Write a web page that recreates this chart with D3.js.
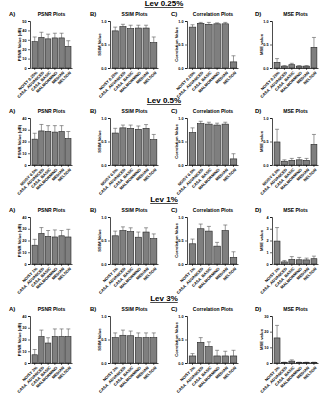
<!DOCTYPE html>
<html>
<head>
<meta charset="utf-8">
<script src="https://cdn.jsdelivr.net/npm/d3@7"></script>
<style>
  body { margin: 0; background: #fff; }
  svg { display: block; font-family: "Liberation Sans", Arial, sans-serif; }
</style>
</head>
<body>
<svg width="328" height="400"></svg>
<script>
// Data
var levels = ["Lev 0.25%", "Lev 0.5%", "Lev 1%", "Lev 3%"];
var noisyNames = ["NOISY 0.25%", "NOISY 0.5%", "NOISY 1%", "NOISY 3%"];
var methods = ["CASA_ADVANCED", "CASA_BASIC", "MALMORMINO", "MEDIAN", "NELSON"];

var psnr = [[28, 32.5, 31, 32, 32, 23], [22, 29, 28.5, 28, 28.5, 22.5], [16, 26, 23.5, 23, 24, 23], [7, 22.5, 17, 22.5, 22.5, 22.5]];
var psnrErr = [[5, 5.5, 5, 5, 5, 6], [5, 5.5, 5, 5.5, 5, 6], [5, 5, 5, 6, 4.5, 6.5], [4.5, 5.5, 4.5, 6.5, 6.5, 6.5]];
var ssim = [[0.79, 0.88, 0.84, 0.85, 0.85, 0.54], [0.68, 0.79, 0.78, 0.76, 0.78, 0.54], [0.6, 0.71, 0.69, 0.57, 0.68, 0.54], [0.54, 0.59, 0.58, 0.54, 0.54, 0.54]];
var ssimErr = [[0.08, 0.05, 0.07, 0.06, 0.06, 0.12], [0.1, 0.06, 0.07, 0.07, 0.08, 0.11], [0.1, 0.08, 0.08, 0.11, 0.09, 0.1], [0.1, 0.11, 0.1, 0.1, 0.1, 0.1]];
var corr = [[0.87, 0.95, 0.93, 0.94, 0.94, 0.13], [0.69, 0.88, 0.87, 0.85, 0.87, 0.13], [0.43, 0.75, 0.7, 0.38, 0.71, 0.14], [0.15, 0.44, 0.35, 0.15, 0.15, 0.15]];
var corrErr = [[0.05, 0.02, 0.04, 0.02, 0.03, 0.13], [0.1, 0.05, 0.04, 0.04, 0.04, 0.11], [0.1, 0.1, 0.1, 0.08, 0.12, 0.12], [0.05, 0.1, 0.1, 0.12, 0.1, 0.12]];
var mse = [[0.12, 0.04, 0.07, 0.04, 0.04, 0.44], [0.49, 0.08, 0.1, 0.11, 0.1, 0.44], [1.95, 0.18, 0.38, 0.36, 0.35, 0.45], [16, 0.3, 1.2, 0.3, 0.3, 0.3]];
var mseErr = [[0.08, 0.01, 0.03, 0.01, 0.01, 0.21], [0.27, 0.03, 0.04, 0.05, 0.04, 0.21], [1.15, 0.12, 0.25, 0.2, 0.15, 0.22], [8, 0.2, 0.8, 0.2, 0.2, 0.2]];

var psnrMax = [50, 40, 40, 40];
var mseMax = [1, 1, 4, 30];
var mseTicks = [[0, 0.5, 1], [0, 0.5, 1], [0, 1, 2, 3, 4], [0, 10, 20, 30]];

var svg = d3.select("svg");

// Panel layout
var panels = [
  {tag: "A)", title: "PSNR Plots", ylab: "PSNR Value (dB)", x0: 31, x1: 72, tagX: 9},
  {tag: "B)", title: "SSIM Plots", ylab: "SSIM Value", x0: 111, x1: 158, tagX: 90},
  {tag: "C)", title: "Correlation Plots", ylab: "Correlation Value", x0: 188, x1: 238, tagX: 171},
  {tag: "D)", title: "MSE Plots", ylab: "MSE value", x0: 273, x1: 318, tagX: 255}
];
var rowTop = [21, 118, 217, 316];
var plotH = 47;

levels.forEach(function(lev, r) {
  var top = rowTop[r];

  // Row heading, bold + underlined
  var ht = svg.append("text")
    .attr("x", 164).attr("y", top - 15)
    .attr("text-anchor", "middle")
    .style("font-size", "8px").style("font-weight", "bold")
    .text(lev);
  var bb = ht.node().getBBox();
  svg.append("line")
    .attr("x1", bb.x).attr("x2", bb.x + bb.width)
    .attr("y1", top - 13.5).attr("y2", top - 13.5)
    .attr("stroke", "#000").attr("stroke-width", 0.7);

  var cats = [noisyNames[r]].concat(methods);
  var sets = [
    {v: psnr[r], e: psnrErr[r], max: psnrMax[r], ticks: d3.range(0, psnrMax[r] + 1, 10), fmt: d3.format("d")},
    {v: ssim[r], e: ssimErr[r], max: 1, ticks: [0, 0.5, 1], fmt: d3.format(".1f")},
    {v: corr[r], e: corrErr[r], max: 1, ticks: [0, 0.5, 1], fmt: d3.format(".1f")},
    {v: mse[r], e: mseErr[r], max: mseMax[r], ticks: mseTicks[r], fmt: mseMax[r] == 1 ? d3.format(".1f") : d3.format("d")}
  ];

  panels.forEach(function(p, i) {
    var s = sets[i];
    var g = svg.append("g");
    var x = d3.scaleBand().domain(cats).range([p.x0, p.x1]).paddingInner(0.2).paddingOuter(0.15);
    var y = d3.scaleLinear().domain([0, s.max]).range([top + plotH, top]);

    // tag and title
    g.append("text").attr("x", p.tagX).attr("y", top - 5)
      .style("font-size", "6px").style("font-weight", "bold").text(p.tag);
    g.append("text").attr("x", (p.x0 + p.x1) / 2).attr("y", top - 5)
      .attr("text-anchor", "middle")
      .style("font-size", "5px").style("font-weight", "bold").text(p.title);

    // error bars (upper only)
    cats.forEach(function(c, k) {
      var cx = x(c) + x.bandwidth() / 2;
      g.append("line").attr("x1", cx).attr("x2", cx)
        .attr("y1", y(s.v[k])).attr("y2", y(s.v[k] + s.e[k]))
        .attr("stroke", "#555").attr("stroke-width", 0.6);
      g.append("line").attr("x1", cx - 2).attr("x2", cx + 2)
        .attr("y1", y(s.v[k] + s.e[k])).attr("y2", y(s.v[k] + s.e[k]))
        .attr("stroke", "#555").attr("stroke-width", 0.6);
    });

    // bars
    g.selectAll("rect.bar").data(s.v).enter().append("rect")
      .attr("class", "bar")
      .attr("x", function(d, k) { return x(cats[k]); })
      .attr("width", x.bandwidth())
      .attr("y", function(d) { return y(d); })
      .attr("height", function(d) { return y(0) - y(d); })
      .attr("fill", "#7f7f7f").attr("stroke", "#222").attr("stroke-width", 0.6);

    // y axis
    var ya = g.append("g").attr("transform", "translate(" + (p.x0 - 1) + ",0)")
      .call(d3.axisLeft(y).tickValues(s.ticks).tickFormat(s.fmt).tickSize(2).tickPadding(1.5));
    ya.selectAll("text").style("font-size", "3.8px").style("font-weight", "bold");
    ya.select(".domain").attr("stroke-width", 0.7);
    ya.selectAll(".tick line").attr("stroke-width", 0.6);

    // x axis
    var xa = g.append("g").attr("transform", "translate(0," + (top + plotH) + ")")
      .call(d3.axisBottom(x).tickSize(2).tickSizeOuter(0).tickPadding(1));
    xa.select(".domain").attr("stroke-width", 0.7);
    xa.selectAll(".tick line").attr("stroke-width", 0.6);
    xa.selectAll("text")
      .style("font-size", "4px").style("font-weight", "bold")
      .attr("text-anchor", "end")
      .attr("dy", "0.3em")
      .attr("transform", "translate(0,2) rotate(-45)");

    // y label
    g.append("text")
      .attr("transform", "translate(" + (p.x0 - 10) + "," + (top + plotH / 2) + ") rotate(-90)")
      .attr("text-anchor", "middle")
      .style("font-size", "4.2px").style("font-weight", "bold")
      .text(p.ylab);
  });
});
</script>
</body>
</html>
